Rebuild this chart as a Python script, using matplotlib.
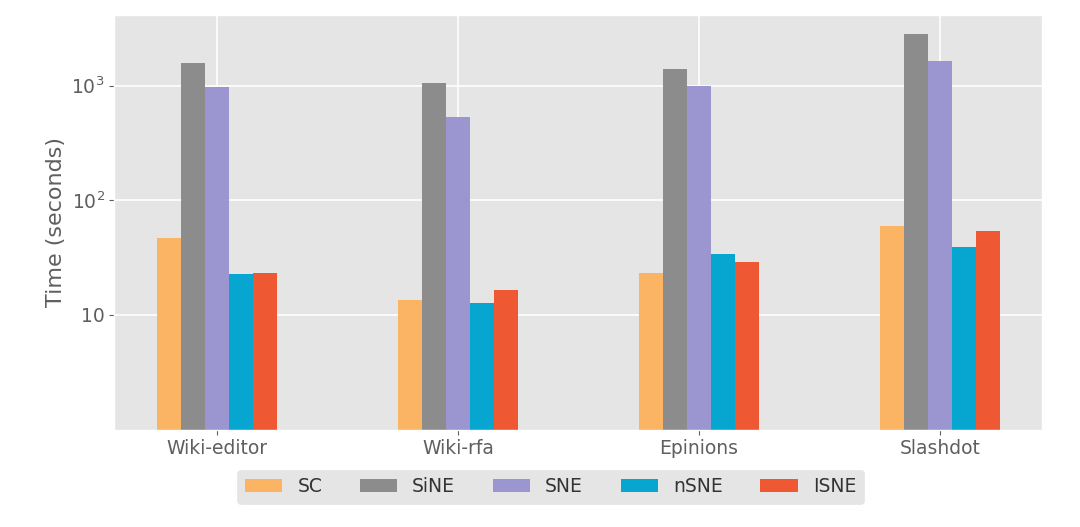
#!/usr/bin/env python3
"""
Running time of signed network embedding methods per dataset (log scale)
"""
import matplotlib
matplotlib.use("Agg")
import matplotlib.pyplot as plt
import numpy as np

plt.style.use("ggplot")

datasets = ["Wiki-editor", "Wiki-rfa", "Epinions", "Slashdot"]
methods = ["SC", "SiNE", "SNE", "nSNE", "ISNE"]
sc = [47, 13.5, 23, 60]
sine = [1570, 1050, 1400, 2830]
sne = [980, 530, 1000, 1650]
nsne = [22.5, 12.8, 34, 39]
isne = [23, 16.5, 29, 54]
colors = ["#FAB463", "#8C8C8C", "#9B96CF", "#06A6D1", "#EE5933"]

series = [sc, sine, sne, nsne, isne]
text_color = "#5f5f5f"

fig, ax = plt.subplots(figsize=(10.8, 5.27), dpi=100)
fig.subplots_adjust(left=0.106, right=0.965, top=0.972, bottom=0.185)

x = np.arange(len(datasets))
width = 0.1
for i, (name, vals) in enumerate(zip(methods, series)):
    ax.bar(x + (i - 2) * width, vals, width=width, color=colors[i],
           label=name)

ax.set_yscale("log")
ax.set_ylim(1, 4150)
ax.set_yticks([10, 100, 1000])
ax.set_yticklabels(["10", "$10^2$", "$10^3$"])
ax.minorticks_off()
ax.set_xticks(x)
ax.set_xticklabels(datasets)
ax.tick_params(axis="both", labelsize=13.5, colors=text_color,
               labelcolor=text_color)
ax.set_ylabel("Time (seconds)", fontsize=16, color=text_color)
ax.grid(True, color="white", linewidth=1.2)
ax.set_axisbelow(True)

leg = ax.legend(loc="upper center", bbox_to_anchor=(0.47, -0.075), ncol=5,
                fontsize=13.5, handlelength=2.0, columnspacing=2.0,
                facecolor="#E5E5E5", edgecolor="#E5E5E5", framealpha=1)
for t in leg.get_texts():
    t.set_color("#333333")

plt.savefig("out.png", dpi=100)
